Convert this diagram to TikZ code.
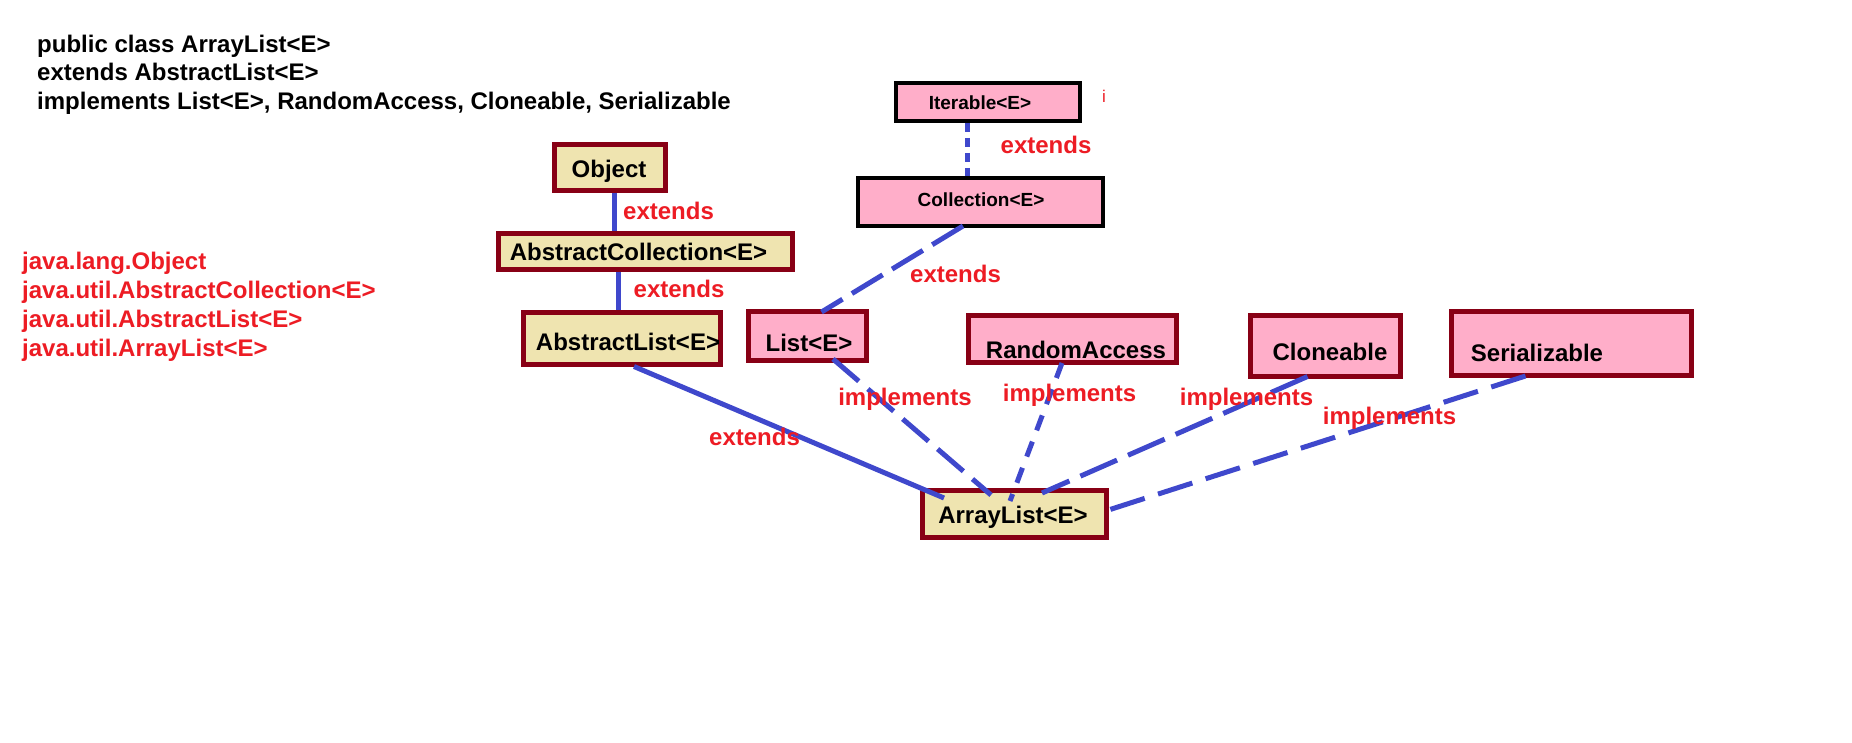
\documentclass[tikz,border=0pt]{standalone}
\usepackage{fontspec}
\setmainfont{Liberation Sans}
\definecolor{dred}{HTML}{880015}
\definecolor{beige}{HTML}{EFE4B0}
\definecolor{pinkf}{HTML}{FFAEC9}
\definecolor{lblue}{HTML}{3F48CC}
\definecolor{tred}{HTML}{ED1C24}
\begin{document}
\begin{tikzpicture}[x=1pt,y=-1pt,
 box/.style={draw=dred, line width=5pt, inner sep=0pt, anchor=center},
 cls/.style={box, fill=beige},
 ifc/.style={box, fill=pinkf},
 topbox/.style={draw=black, line width=4pt, fill=pinkf, inner sep=0pt, anchor=center},
 txt/.style={inner sep=0pt, font=\fontsize{24}{28}\selectfont\bfseries, text height=17pt, text depth=0pt},
 smalltxt/.style={txt, font=\fontsize{19}{22}\selectfont\bfseries, text height=13.6pt},
 lbl/.style={txt, text=tred},
 ext/.style={draw=lblue, line width=5pt},
 impl/.style={ext, dash pattern=on 34pt off 12pt},
]
\fill[white] (0,0) rectangle (1852,743);
\useasboundingbox (0,0) rectangle (1852,743);

% header
\node[txt, anchor=west] (h1) at (37,44) {public class ArrayList<E>};
\node[txt, anchor=west] (h2) at (37,72.5) {extends AbstractList<E>};
\node[txt, anchor=west] (h3) at (37,101.5) {implements List<E>, RandomAccess, Cloneable, Serializable};

% red list
\node[lbl, anchor=west] (r1) at (22,261) {java.lang.Object};
\node[lbl, anchor=west] (r2) at (22,290) {java.util.AbstractCollection<E>};
\node[lbl, anchor=west] (r3) at (22,319) {java.util.AbstractList<E>};
\node[lbl, anchor=west] (r4) at (22,348) {java.util.ArrayList<E>};

% boxes
\node[cls, minimum width=111pt, minimum height=46pt] (obj) at (610,167.5) {};
\node[cls, minimum width=294pt, minimum height=36pt] (ac) at (645.5,251.5) {};
\node[cls, minimum width=197pt, minimum height=52pt] (al) at (622,338) {};
\node[ifc, minimum width=118pt, minimum height=49pt] (list) at (807.5,336) {};
\node[ifc, minimum width=208pt, minimum height=47pt] (ra) at (1072.5,339) {};
\node[ifc, minimum width=150pt, minimum height=61pt] (clo) at (1325.5,345.5) {};
\node[ifc, minimum width=240pt, minimum height=64pt] (ser) at (1571.5,343.5) {};
\node[topbox, minimum width=184pt, minimum height=38pt] (it) at (988,102) {};
\node[topbox, minimum width=245pt, minimum height=48pt] (coll) at (980.5,202) {};
\node[cls, minimum width=184pt, minimum height=47pt] (arr) at (1014,514) {};

% box texts
\node[txt] (objT) at (609,169) {Object};
\node[txt] (acT) at (638.5,252.5) {AbstractCollection<E>};
\node[txt] (alT) at (628,342) {AbstractList<E>};
\node[txt] (listT) at (809,343) {List<E>};
\node[txt] (raT) at (1076,350) {RandomAccess};
\node[txt] (cloT) at (1330,352) {Cloneable};
\node[txt] (serT) at (1537,353) {Serializable};
\node[smalltxt] (itT) at (980,102.5) {Iterable<E>};
\node[smalltxt] (collT) at (981,200) {Collection<E>};
\node[txt] (arrT) at (1013,515) {ArrayList<E>};

% connectors
\draw[ext] ([shift={(4,0)}]obj.south) -- ([shift={(4,0)}]obj.south |- ac.north);
\draw[ext] ([shift={(-27,0)}]ac.south) -- ([shift={(-27,0)}]ac.south |- al.north);
\draw[ext] ([shift={(12,0)}]al.south) -- ([shift={(-70,10)}]arr.north);
\draw[impl] ([shift={(25.5,-4)}]list.south) -- ([shift={(-23,7)}]arr.north);
\draw[impl, dash pattern=on 16pt off 12pt] ([shift={(-10.5,-2)}]ra.south) -- ([shift={(-4,13)}]arr.north);
\draw[impl, dash pattern=on 40pt off 12pt] ([shift={(-18,-2)}]clo.south) -- ([shift={(28,5)}]arr.north);
\draw[impl, dash pattern=on 36pt off 14pt] ([shift={(-46,-2)}]ser.south) -- ([shift={(0,-4)}]arr.east);
\draw[impl, dash pattern=on 36pt off 11pt] ([shift={(-17.5,-2)}]coll.south) -- ([shift={(14,3)}]list.north);
\draw[ext, dash pattern=on 9pt off 6pt] ([shift={(-21,0)}]it.south) -- ([shift={(-21,0)}]it.south |- coll.north);

% labels
\node[lbl] (e1) at (668.5,211) {extends};
\node[lbl] (e2) at (679,289) {extends};
\node[lbl] (e3) at (754.5,437) {extends};
\node[lbl] (e4) at (1046,145) {extends};
\node[lbl] (e5) at (955.5,274) {extends};
\node[lbl] (i1) at (905,397) {implements};
\node[lbl] (i2) at (1069.5,393) {implements};
\node[lbl] (i3) at (1246.5,397) {implements};
\node[lbl] (i4) at (1389.5,416) {implements};
\node[inner sep=0pt, text=tred, font=\fontsize{17}{20}\selectfont] (dot) at (1104,96) {i};
\end{tikzpicture}
\end{document}
